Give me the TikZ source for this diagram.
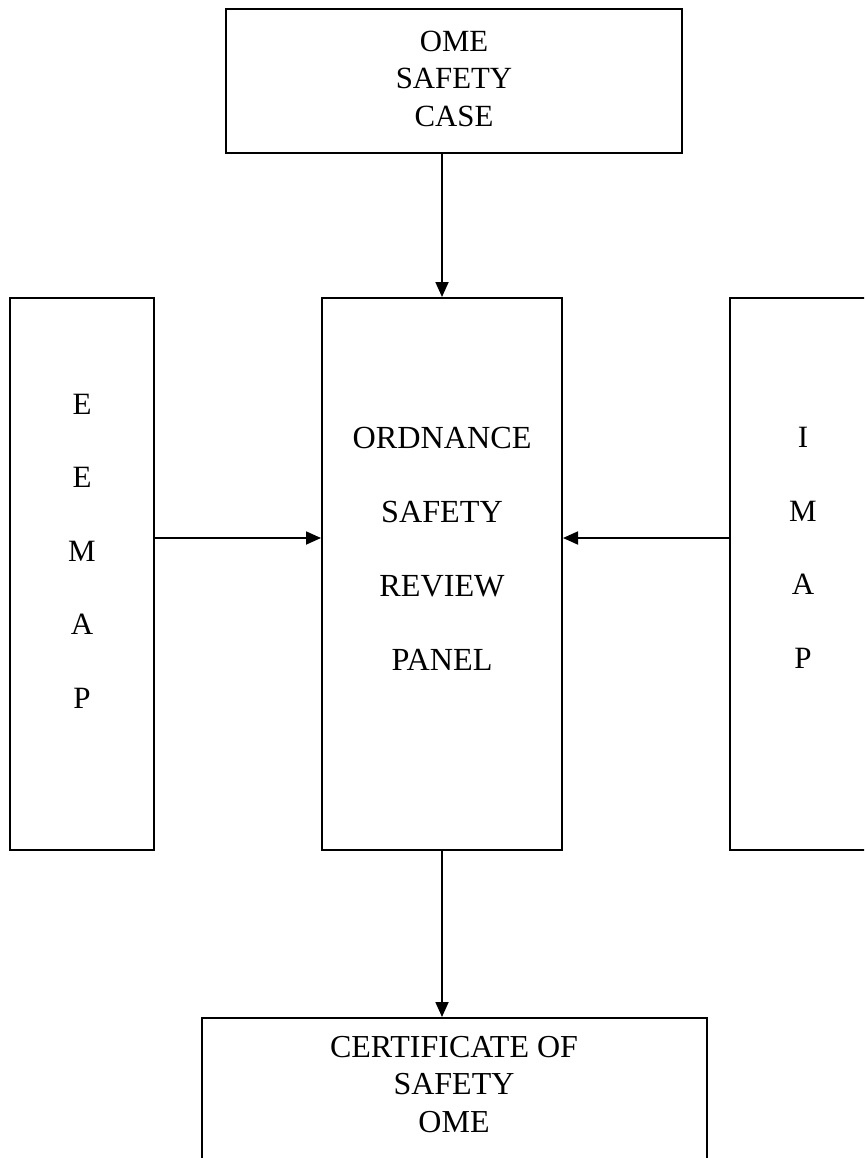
\documentclass[tikz,border=0pt]{standalone}
\usepackage{fontspec}
\setmainfont{Liberation Serif}
\usetikzlibrary{arrows.meta}
\begin{document}
\begin{tikzpicture}[x=1pt,y=-1pt,
  box/.style={draw=black, line width=2pt, rectangle, inner sep=0pt},
  txt/.style={align=center, inner sep=0pt, text=black},
  arr/.style={draw=black, line width=1.8pt, -{Triangle[length=15pt,width=13pt]}}]
\useasboundingbox (0,0) rectangle (864,1158);
\clip (0,0) rectangle (864,1158);
% boxes
\node[box, minimum width=456pt, minimum height=144pt] (T) at (454,81) {};
\node[box, minimum width=240pt, minimum height=552pt] (M) at (442,574) {};
\node[box, minimum width=144pt, minimum height=552pt] (L) at (82,574) {};
\node[box, minimum width=146pt, minimum height=552pt] (R) at (803,574) {};
\node[box, minimum width=505pt, minimum height=144pt] (B) at (454.5,1090) {};
% texts
\node[txt, font=\fontsize{30.8}{37.5}\selectfont] (Tt) at (454,78.5) {OME\\SAFETY\\CASE};
\node[txt, font=\fontsize{32.2}{74}\selectfont] (Mt) at (442,549) {ORDNANCE\\SAFETY\\REVIEW\\PANEL};
\node[txt, font=\fontsize{31}{73.5}\selectfont] (Lt) at (82,551) {E\\E\\M\\A\\P};
\node[txt, font=\fontsize{31}{73.5}\selectfont] (Rt) at (803,548) {I\\M\\A\\P};
\node[txt, font=\fontsize{32}{37.5}\selectfont] (Bt) at (454,1084.5) {CERTIFICATE OF\\SAFETY\\OME};
% connectors
\coordinate (hl) at (0,538);
\draw[arr] (M.north |- T.south) -- (M.north);
\draw[arr] (L.east |- hl) -- (M.west |- hl);
\draw[arr] (R.west |- hl) -- (M.east |- hl);
\draw[arr] (M.south) -- (M.south |- B.north);
\end{tikzpicture}
\end{document}
